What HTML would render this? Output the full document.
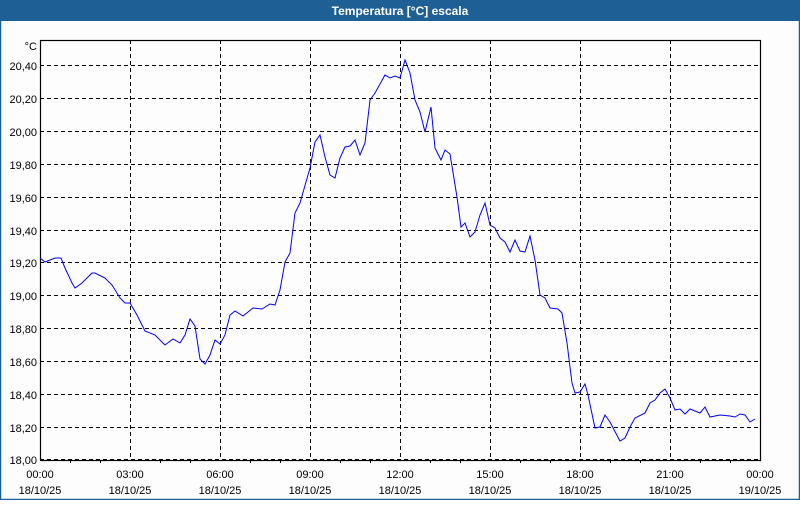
<!DOCTYPE html>
<html><head><meta charset="utf-8"><style>
body{margin:0;width:800px;height:500px;overflow:hidden;background:#fff;font-family:"Liberation Sans",sans-serif;}
</style></head><body>
<svg width="800" height="500" xmlns="http://www.w3.org/2000/svg" font-family="Liberation Sans, sans-serif" font-size="11">
<rect x="0" y="0" width="800" height="500" fill="#fcfdfc"/>
<rect x="0" y="0" width="800" height="21" fill="#1e6096"/>
<rect x="0.5" y="20" width="799" height="479.5" fill="none" stroke="#1e6096" stroke-width="1.5"/>
<text x="400" y="15" fill="#fff" font-weight="bold" font-size="12" text-anchor="middle">Temperatura [°C] escala</text>
<g stroke="#000" stroke-width="1" stroke-dasharray="4,3">
<line x1="40" x2="760" y1="65.5" y2="65.5"/><line x1="40" x2="760" y1="98.5" y2="98.5"/><line x1="40" x2="760" y1="131.5" y2="131.5"/><line x1="40" x2="760" y1="164.5" y2="164.5"/><line x1="40" x2="760" y1="197.5" y2="197.5"/><line x1="40" x2="760" y1="230.5" y2="230.5"/><line x1="40" x2="760" y1="262.5" y2="262.5"/><line x1="40" x2="760" y1="295.5" y2="295.5"/><line x1="40" x2="760" y1="328.5" y2="328.5"/><line x1="40" x2="760" y1="361.5" y2="361.5"/><line x1="40" x2="760" y1="394.5" y2="394.5"/><line x1="40" x2="760" y1="427.5" y2="427.5"/><line x1="40" x2="760" y1="459.5" y2="459.5"/>
<line x1="130.5" x2="130.5" y1="40" y2="460"/><line x1="220.5" x2="220.5" y1="40" y2="460"/><line x1="310.5" x2="310.5" y1="40" y2="460"/><line x1="400.5" x2="400.5" y1="40" y2="460"/><line x1="490.5" x2="490.5" y1="40" y2="460"/><line x1="580.5" x2="580.5" y1="40" y2="460"/><line x1="670.5" x2="670.5" y1="40" y2="460"/>
</g>
<rect x="40.5" y="40.5" width="720" height="420" fill="none" stroke="#000" stroke-width="1.2"/>
<g stroke="#000"><line x1="70.5" x2="70.5" y1="460" y2="463"/><line x1="100.5" x2="100.5" y1="460" y2="463"/><line x1="160.5" x2="160.5" y1="460" y2="463"/><line x1="190.5" x2="190.5" y1="460" y2="463"/><line x1="250.5" x2="250.5" y1="460" y2="463"/><line x1="280.5" x2="280.5" y1="460" y2="463"/><line x1="340.5" x2="340.5" y1="460" y2="463"/><line x1="370.5" x2="370.5" y1="460" y2="463"/><line x1="430.5" x2="430.5" y1="460" y2="463"/><line x1="460.5" x2="460.5" y1="460" y2="463"/><line x1="520.5" x2="520.5" y1="460" y2="463"/><line x1="550.5" x2="550.5" y1="460" y2="463"/><line x1="610.5" x2="610.5" y1="460" y2="463"/><line x1="640.5" x2="640.5" y1="460" y2="463"/><line x1="700.5" x2="700.5" y1="460" y2="463"/><line x1="730.5" x2="730.5" y1="460" y2="463"/></g>
<g fill="#000" text-anchor="end">
<text x="37" y="50">°C</text>
<text x="37" y="70">20,40</text><text x="37" y="103">20,20</text><text x="37" y="136">20,00</text><text x="37" y="169">19,80</text><text x="37" y="202">19,60</text><text x="37" y="235">19,40</text><text x="37" y="267">19,20</text><text x="37" y="300">19,00</text><text x="37" y="333">18,80</text><text x="37" y="366">18,60</text><text x="37" y="399">18,40</text><text x="37" y="432">18,20</text><text x="37" y="464">18,00</text>
</g>
<g fill="#000" text-anchor="middle">
<text x="40" y="478">00:00</text><text x="40" y="494">18/10/25</text>
<text x="130" y="478">03:00</text><text x="130" y="494">18/10/25</text>
<text x="220" y="478">06:00</text><text x="220" y="494">18/10/25</text>
<text x="310" y="478">09:00</text><text x="310" y="494">18/10/25</text>
<text x="400" y="478">12:00</text><text x="400" y="494">18/10/25</text>
<text x="490" y="478">15:00</text><text x="490" y="494">18/10/25</text>
<text x="580" y="478">18:00</text><text x="580" y="494">18/10/25</text>
<text x="670" y="478">21:00</text><text x="670" y="494">18/10/25</text>
<text x="760" y="478">00:00</text><text x="760" y="494">19/10/25</text>
</g>
<polyline fill="none" stroke="#0000ff" stroke-width="1" points="40,258 45,262 55,258 61,258 65,268 72,283 75,288 82,283 92,273 95,273 105,278 112,285 120,298 125,303 130,303 137,315 145,331 155,335 165,345 173,339 180,343 185,335 190,319 195,326 200,359 205,364 210,355 215,340 220,344 225,335 230,315 235,311 243,316 253,308 262,309 270,304 275,305 280,290 285,262 290,253 295,213 300,203 310,168 315,142 320,135 325,157 330,175 335,178 340,158 345,147 350,146 355,140 360,155 365,143 370,100 375,93 385,75 390,78 395,76 400,78 405,60 410,73 415,100 420,112 425,132 431,107 435,148 441,160 445,150 450,154 457,197 461,227 465,223 470,237 475,232 480,215 485,203 490,225 495,228 500,238 505,242 510,252 515,240 520,251 525,252 530,236 535,260 540,295 545,298 550,308 558,309 562,313 567,343 572,383 575,393 580,392 585,384 588,395 595,428 600,427 605,415 610,422 620,441 625,438 630,427 635,418 645,413 650,403 655,400 660,393 665,389 670,398 675,410 680,409 685,414 690,409 695,411 700,413 705,407 710,417 715,416 720,415 730,416 735,417 740,414 745,415 750,422 755,419"/>
</svg>
</body></html>
